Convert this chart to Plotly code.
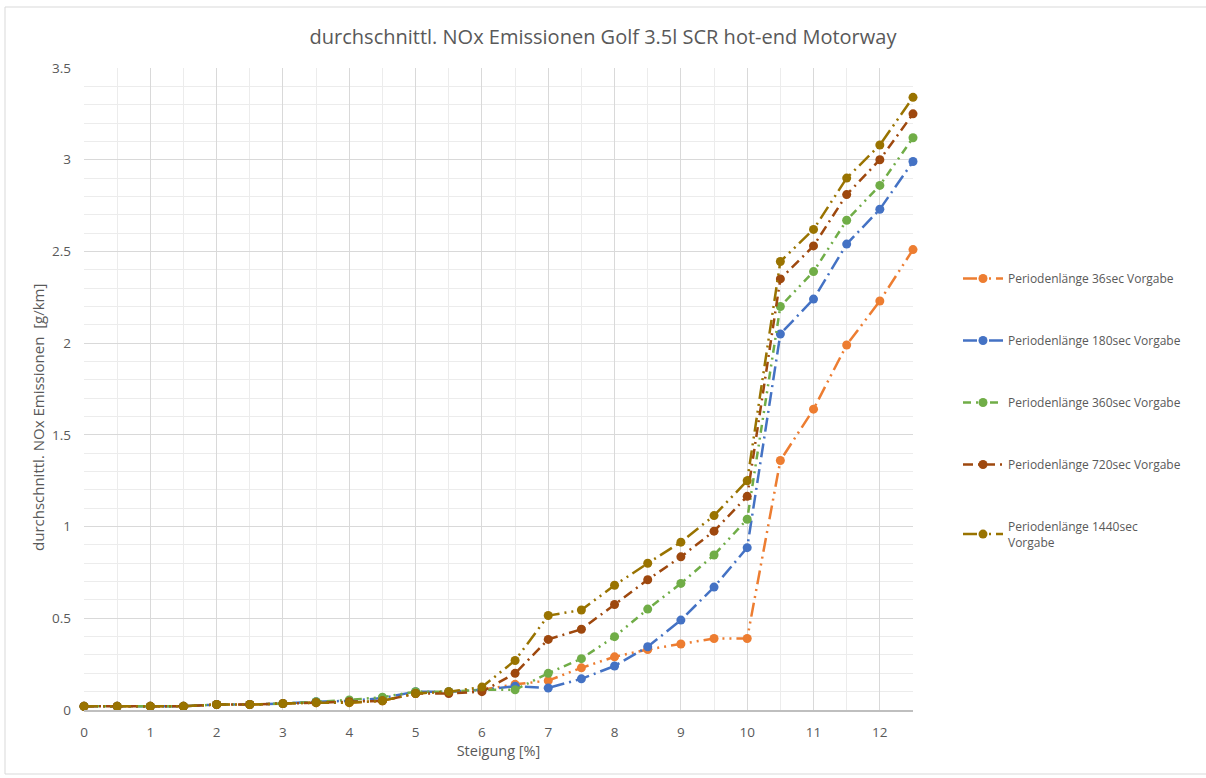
import plotly.graph_objects as go

# Steigung in %, 0 ... 12.5 in 0.5 steps
steigung = [0, 0.5, 1, 1.5, 2, 2.5, 3, 3.5, 4, 4.5, 5, 5.5, 6, 6.5,
            7, 7.5, 8, 8.5, 9, 9.5, 10, 10.5, 11, 11.5, 12, 12.5]

# mean NOx emissions [g/km] per period length
nox_36 = [0.02, 0.02, 0.02, 0.02, 0.03, 0.03, 0.035, 0.04, 0.04, 0.05, 0.09, 0.10, 0.11,
          0.14, 0.16, 0.23, 0.29, 0.33, 0.36, 0.39, 0.39, 1.36, 1.64, 1.99, 2.23, 2.51]
nox_180 = [0.02, 0.02, 0.02, 0.02, 0.03, 0.03, 0.035, 0.045, 0.05, 0.065, 0.10, 0.10, 0.11,
           0.13, 0.12, 0.17, 0.24, 0.345, 0.49, 0.67, 0.885, 2.05, 2.24, 2.54, 2.73, 2.99]
nox_360 = [0.02, 0.02, 0.02, 0.02, 0.03, 0.03, 0.035, 0.045, 0.055, 0.07, 0.10, 0.10, 0.11,
           0.11, 0.20, 0.28, 0.40, 0.55, 0.69, 0.845, 1.04, 2.20, 2.39, 2.67, 2.86, 3.12]
nox_720 = [0.02, 0.02, 0.02, 0.02, 0.03, 0.03, 0.035, 0.04, 0.045, 0.05, 0.09, 0.09, 0.10,
           0.20, 0.385, 0.44, 0.575, 0.71, 0.835, 0.975, 1.165, 2.35, 2.53, 2.81, 3.00, 3.25]
nox_1440 = [0.02, 0.02, 0.02, 0.02, 0.03, 0.03, 0.035, 0.04, 0.04, 0.05, 0.09, 0.10, 0.125,
            0.27, 0.515, 0.545, 0.68, 0.80, 0.915, 1.06, 1.25, 2.445, 2.62, 2.90, 3.08, 3.34]

series_names = ["Periodenlänge 36sec Vorgabe",
                "Periodenlänge 180sec Vorgabe",
                "Periodenlänge 360sec Vorgabe",
                "Periodenlänge 720sec Vorgabe",
                "Periodenlänge 1440sec<br>Vorgabe"]
series_values = [nox_36, nox_180, nox_360, nox_720, nox_1440]
colors = ["#ED7D31", "#4472C4", "#70AD47", "#9E480E", "#997300"]
dashes = ["14px,5px,2px,5px,2px,5px",
          "14px,5px,2px,5px",
          "8px,5px,2px,5px,2px,5px",
          "10px,5px,2px,5px",
          "14px,5px,2px,5px,2px,5px"]

TXT = "#595959"
FONT = "Open Sans"

fig = go.Figure()
for i, (name, vals, col, dash) in enumerate(zip(series_names, series_values, colors, dashes)):
    fig.add_trace(go.Scatter(
        x=steigung, y=vals, name=name, mode="lines+markers",
        line=dict(color=col, width=2.5, dash=dash),
        marker=dict(color=col, size=9, symbol="circle"),
        cliponaxis=False, legendgroup=f"g{i}",
    ))

# plot-area geometry in pixels
W, H = 1206, 778
L, R, T, B = 84, 913, 68, 710
pw, ph = R - L, B - T

def px_x(p):
    return (p - L) / pw

def px_y(p):
    return (B - p) / ph

fig.update_layout(
    width=W, height=H,
    margin=dict(l=L, r=W - R, t=T, b=H - B),
    paper_bgcolor="white", plot_bgcolor="white",
    font=dict(family=FONT, color=TXT, size=12),
    title=dict(text="durchschnittl. NOx Emissionen Golf 3.5l SCR hot-end Motorway",
               x=0.5, xref="container", xanchor="center",
               y=1 - 37 / H, yref="container", yanchor="middle",
               font=dict(size=20, color=TXT, family=FONT)),
    showlegend=True,
    legend=dict(x=px_x(958), xanchor="left", y=px_y(264), yanchor="top",
                tracegroupgap=43, font=dict(size=12, color=TXT, family=FONT),
                itemwidth=40, bgcolor="rgba(0,0,0,0)"),
    xaxis=dict(range=[0, 12.5], tick0=0, dtick=1, showgrid=True,
               gridcolor="#d9d9d9", gridwidth=1,
               minor=dict(dtick=0.5, showgrid=True, gridcolor="#ececec", gridwidth=1),
               showline=True, linecolor="#bfbfbf", linewidth=1.5,
               zeroline=False, ticks="", tickfont=dict(size=13.5, color=TXT),
               ticklabelstandoff=9,
               title=dict(text="Steigung [%]", font=dict(size=14.5, color=TXT), standoff=6),
               fixedrange=True),
    yaxis=dict(range=[0, 3.5], tick0=0, dtick=0.5, showgrid=True,
               gridcolor="#d9d9d9", gridwidth=1,
               minor=dict(dtick=0.1, showgrid=True, gridcolor="#ececec", gridwidth=1),
               showline=False, zeroline=False, ticks="",
               tickfont=dict(size=13.5, color=TXT), ticklabelstandoff=12,
               fixedrange=True),
    annotations=[dict(text="durchschnittl. NOx Emissionen  [g/km]",
                      xref="paper", yref="paper", x=px_x(38), y=px_y(418),
                      xanchor="center", yanchor="middle", textangle=-90,
                      showarrow=False, font=dict(size=15, color=TXT, family=FONT))],
    shapes=[dict(type="rect", xref="paper", yref="paper",
                 x0=px_x(5), x1=px_x(1212), y0=px_y(774), y1=px_y(7),
                 line=dict(color="#d9d9d9", width=1), fillcolor="rgba(0,0,0,0)",
                 layer="below")],
)

fig.write_html("out.html")
